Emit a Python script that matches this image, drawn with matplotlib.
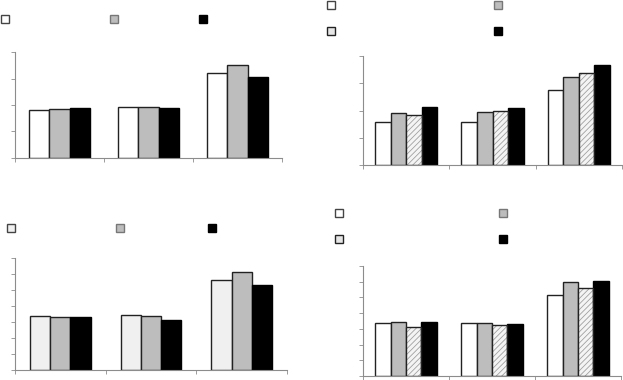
import matplotlib
matplotlib.use("Agg")
import matplotlib.pyplot as plt
from matplotlib.patches import Rectangle
import numpy as np

W, H = 623, 380

# ---- data ----
categories = ["", "", ""]

p1_white = [1.81, 1.91, 3.20]
p1_gray = [1.86, 1.91, 3.50]
p1_black = [1.90, 1.87, 3.06]

p2_white = [1.57, 1.59, 2.76]
p2_gray = [1.90, 1.94, 3.24]
p2_hatch = [1.83, 1.99, 3.36]
p2_black = [2.12, 2.10, 3.67]

p3_light = [3.35, 3.44, 5.61]
p3_gray = [3.29, 3.35, 6.11]
p3_black = [3.29, 3.13, 5.30]

p4_white = [3.35, 3.35, 5.14]
p4_gray = [3.44, 3.35, 5.99]
p4_hatch = [3.12, 3.25, 5.60]
p4_black = [3.44, 3.31, 6.07]

fig = plt.figure(figsize=(W / 100, H / 100), dpi=100)
plt.rcParams['hatch.linewidth'] = 0.6

AX = '#8c8c8c'

def make_ax(x0, x1, ytop, ybot, ymax):
    ax = fig.add_axes([x0 / W, 1 - ybot / H, (x1 - x0) / W, (ybot - ytop) / H])
    ax.set_xlim(0, 3)
    ax.set_ylim(0, ymax)
    for s in ['top', 'right']:
        ax.spines[s].set_visible(False)
    for s in ['left', 'bottom']:
        ax.spines[s].set_color(AX)
        ax.spines[s].set_linewidth(0.8)
    ax.set_yticks(np.arange(0, ymax + 0.01, 1))
    ax.set_xticks([0, 1, 2, 3])
    ax.tick_params(axis='both', colors=AX, length=3, width=0.6,
                   labelleft=False, labelbottom=False)
    ax.patch.set_alpha(0)
    return ax

def styles(kind):
    return {
        'white': dict(color='white', edgecolor='#222222', linewidth=1.0),
        'light': dict(color='#f0f0f0', edgecolor='#222222', linewidth=1.0),
        'gray': dict(color='#bdbdbd', edgecolor='#222222', linewidth=1.0),
        'black': dict(color='black', edgecolor='black', linewidth=1.0),
    }[kind]

def draw(ax, series, kinds, group):
    n = len(series)
    bw = group / n
    x = np.arange(len(categories)) + 0.5
    for i, (vals, k) in enumerate(zip(series, kinds)):
        pos = x - group / 2 + bw * (i + 0.5)
        if k == 'hatch':
            ax.bar(pos, vals, bw, color='#f4f4f4', edgecolor='#a0a0a0',
                   linewidth=0, hatch='//////', zorder=2)
            ax.bar(pos, vals, bw, fill=False, edgecolor='#222222',
                   linewidth=1.0, zorder=3)
        else:
            ax.bar(pos, vals, bw, **styles(k), zorder=2)

def marker(px, py, kind, size=8):
    if kind == 'hatch':
        face = '#e6e6e6'
    else:
        face = styles(kind)['color']
    edge = {'white': '#444444', 'light': '#444444', 'gray': '#777777',
            'hatch': '#222222', 'black': 'black'}[kind]
    r = Rectangle((px / W, 1 - (py + size / 2) / H), size / W, size / H,
                  transform=fig.transFigure, facecolor=face, edgecolor=edge,
                  linewidth=1.0)
    fig.patches.append(r)

# Panel 1
ax1 = make_ax(15, 282, 52, 158, 4)
draw(ax1, [p1_white, p1_gray, p1_black], ['white', 'gray', 'black'], 0.675)
marker(1, 19, 'white'); marker(110, 19, 'gray'); marker(199, 19, 'black')

# Panel 2
ax2 = make_ax(363, 622, 56, 165, 4)
draw(ax2, [p2_white, p2_gray, p2_hatch, p2_black], ['white', 'gray', 'hatch', 'black'], 0.72)
marker(327, 5, 'white'); marker(494, 5, 'gray')
marker(327, 31, 'hatch'); marker(494, 31, 'black')

# Panel 3
ax3 = make_ax(15, 287, 258, 370, 7)
draw(ax3, [p3_light, p3_gray, p3_black], ['light', 'gray', 'black'], 0.67)
marker(7, 228, 'light'); marker(116, 228, 'gray'); marker(208, 228, 'black')

# Panel 4
ax4 = make_ax(363, 621, 266, 376, 7)
draw(ax4, [p4_white, p4_gray, p4_hatch, p4_black], ['white', 'gray', 'hatch', 'black'], 0.72)
marker(335, 213, 'white'); marker(499, 213, 'gray')
marker(335, 239, 'hatch'); marker(499, 239, 'black')

fig.savefig("out.png", dpi=100)
